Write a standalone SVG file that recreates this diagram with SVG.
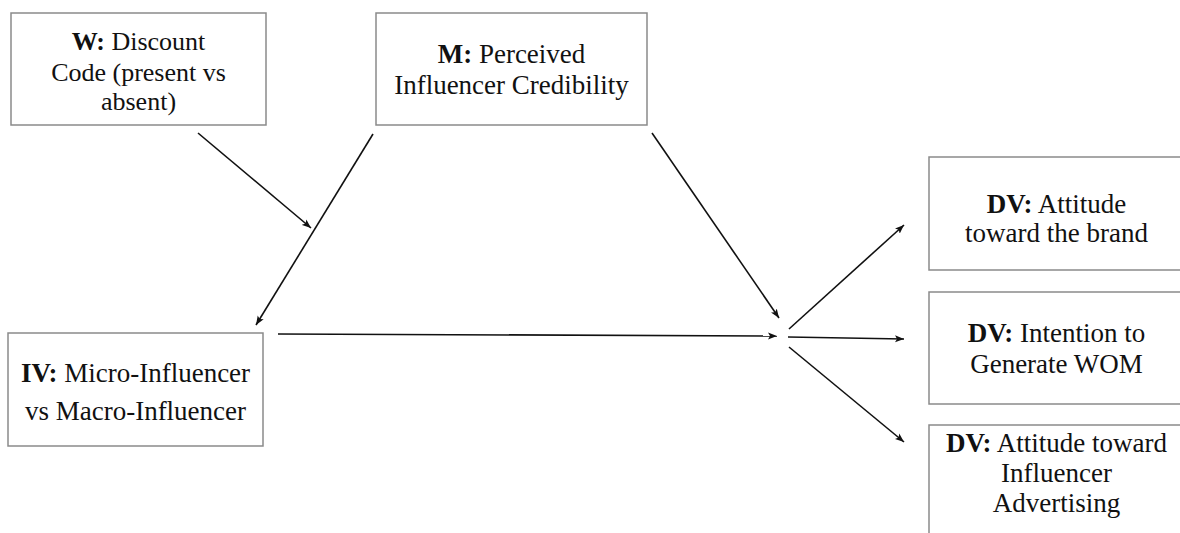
<svg xmlns="http://www.w3.org/2000/svg" width="1180" height="533" viewBox="0 0 1180 533">
<style>
.box{fill:#fff;stroke:#8a8a8a;stroke-width:1.5}
.t{font-family:"Liberation Serif","Times New Roman",serif;font-size:27px;fill:#111;text-anchor:middle}
.w{font-size:26px}
.b{font-weight:bold}
.c{stroke:#111;stroke-width:1.6;fill:none;marker-end:url(#ah)}
</style>
<defs>
<marker id="ah" markerUnits="userSpaceOnUse" markerWidth="10" markerHeight="8" refX="9" refY="4" orient="auto">
<path d="M0,0.5 L9,4 L0,7.5 L2,4 z" fill="#111"/>
</marker>
</defs>
<rect width="1180" height="533" fill="#fff"/>
<g id="node-W">
<rect class="box" x="11" y="13" width="255" height="112"/>
<text class="t w" x="138.5" y="50"><tspan class="b">W:</tspan> Discount</text>
<text class="t w" x="138.5" y="81">Code (present vs</text>
<text class="t w" x="138.5" y="110">absent)</text>
</g>
<g id="node-M">
<rect class="box" x="376" y="13" width="271" height="112"/>
<text class="t" x="511.5" y="63"><tspan class="b">M:</tspan> Perceived</text>
<text class="t" x="511.5" y="94">Influencer Credibility</text>
</g>
<g id="node-IV">
<rect class="box" x="8" y="333" width="255" height="113"/>
<text class="t" x="135.5" y="382"><tspan class="b">IV:</tspan> Micro-Influencer</text>
<text class="t" x="135.5" y="420">vs Macro-Influencer</text>
</g>
<g id="node-DV1">
<rect class="box" x="929" y="157" width="260" height="113"/>
<text class="t" x="1056.5" y="213"><tspan class="b">DV:</tspan> Attitude</text>
<text class="t" x="1056.5" y="242">toward the brand</text>
</g>
<g id="node-DV2">
<rect class="box" x="929" y="292" width="260" height="112"/>
<text class="t" x="1056.5" y="342"><tspan class="b">DV:</tspan> Intention to</text>
<text class="t" x="1056.5" y="373">Generate WOM</text>
</g>
<g id="node-DV3">
<rect class="box" x="929" y="425" width="260" height="130"/>
<text class="t" x="1056.5" y="452"><tspan class="b">DV:</tspan> Attitude toward</text>
<text class="t" x="1056.5" y="482">Influencer</text>
<text class="t" x="1056.5" y="512">Advertising</text>
</g>
<g id="connectors">
<line class="c" x1="198" y1="133" x2="311" y2="228"/>
<line class="c" x1="373" y1="134" x2="256" y2="325"/>
<line class="c" x1="652" y1="133" x2="779" y2="318"/>
<line class="c" x1="278" y1="334" x2="777" y2="336"/>
<line class="c" x1="789" y1="329" x2="904" y2="225"/>
<line class="c" x1="788" y1="337" x2="904" y2="339"/>
<line class="c" x1="789" y1="347" x2="904" y2="442"/>
</g>
</svg>
